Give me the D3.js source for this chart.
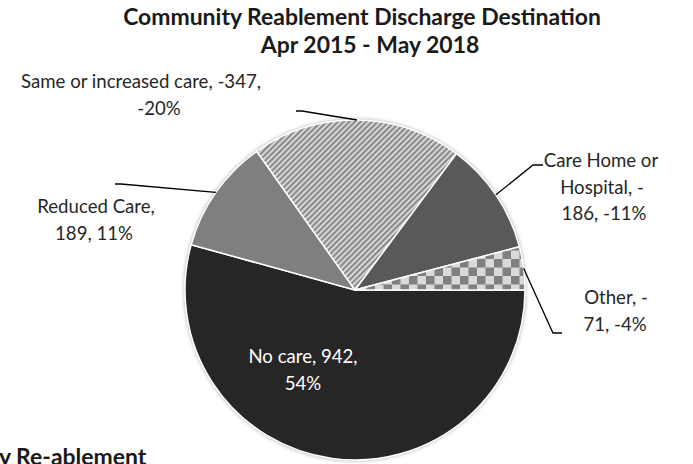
<!DOCTYPE html>
<html><head><meta charset="utf-8">
<script src="https://cdn.jsdelivr.net/npm/d3@7"></script>
<style>html,body{margin:0;padding:0;background:#fff;overflow:hidden}</style>
</head><body>
<svg id="chart" width="693" height="464"></svg>
<script>
// ---- data ----
const categories = ["No care", "Reduced Care", "Same or increased care", "Care Home or Hospital", "Other"];
const values = [942, 189, -347, -186, -71];
const percents = ["54%", "11%", "-20%", "-11%", "-4%"];
const titleLines = ["Community Reablement Discharge Destination", "Apr 2015 - May 2018"];
const footnote = "y Re-ablement";

// ---- layout ----
const W = 693, H = 464;
const cx = 355, cy = 290, R = 170;
const svg = d3.select("#chart");
const defs = svg.append("defs");

const st = defs.append("pattern").attr("id", "stripes").attr("patternUnits", "userSpaceOnUse")
  .attr("width", 4).attr("height", 4).attr("patternTransform", "rotate(45)");
st.append("rect").attr("width", 4).attr("height", 4).attr("fill", "#d6d6d6");
st.append("rect").attr("width", 2).attr("height", 4).attr("fill", "#8a8a8a");

const ck = defs.append("pattern").attr("id", "checker").attr("patternUnits", "userSpaceOnUse")
  .attr("width", 17).attr("height", 17).attr("x", 3).attr("y", 3);
ck.append("rect").attr("width", 17).attr("height", 17).attr("fill", "#d9d9d9");
ck.append("rect").attr("width", 8.5).attr("height", 8.5).attr("fill", "#808080");
ck.append("rect").attr("x", 8.5).attr("y", 8.5).attr("width", 8.5).attr("height", 8.5).attr("fill", "#808080");

const blur = defs.append("filter").attr("id", "blur").attr("x", "-20%").attr("y", "-20%").attr("width", "140%").attr("height", "140%");
blur.append("feGaussianBlur").attr("stdDeviation", 2);

const fills = ["#262626", "#7f7f7f", "url(#stripes)", "#595959", "url(#checker)"];

const g = svg.append("g").attr("transform", `translate(${cx},${cy})`);
g.append("circle").attr("r", R + 0.5).attr("fill", "#000").attr("opacity", 0.35).attr("filter", "url(#blur)");

const pie = d3.pie().value(d => Math.abs(d)).sort(null)
  .startAngle(Math.PI / 2).endAngle(Math.PI / 2 + 2 * Math.PI);
const arcs = pie(values);
const arc = d3.arc().innerRadius(0).outerRadius(R);
const edge = d3.arc().innerRadius(R).outerRadius(R);

g.selectAll("path.slice").data(arcs).join("path").attr("class", "slice")
  .attr("d", arc).attr("fill", (d, i) => fills[i])
  .attr("stroke", "#fff").attr("stroke-width", 1.5).attr("stroke-linejoin", "round");

// leader lines (start on the pie edge at each slice's mid-angle)
const elbows = {
  1: [[121, 184], [115, 184]],
  2: [[302, 111], [296, 111]],
  3: [[533, 165], [543, 165]],
  4: [[553, 333], [562, 333]]
};
Object.keys(elbows).forEach(k => {
  const i = +k;
  const c = edge.centroid(arcs[i]);
  const pts = [[cx + c[0], cy + c[1]]].concat(elbows[i]);
  svg.append("path").attr("d", d3.line()(pts)).attr("fill", "none")
    .attr("stroke", "#000").attr("stroke-width", 1.3);
});

// label text
const fullLabel = i => `${categories[i]}, ${values[i]}, ${percents[i]}`;
const breaks = [[13], [13], [29], [12, 24], [8]];
const labelLines = categories.map((c, i) => {
  const s = fullLabel(i); const out = []; let p = 0;
  breaks[i].forEach(b => { out.push(s.slice(p, b).trim()); p = b; });
  out.push(s.slice(p).trim());
  return out;
});
const labelPos = [
  { xs: [303, 303], y: 363, fill: "#ffffff" },
  { xs: [96, 94], y: 213, fill: "#262626" },
  { xs: [141, 159], y: 88, fill: "#262626" },
  { xs: [601, 602, 604], y: 167, fill: "#262626" },
  { xs: [616, 615], y: 304, fill: "#262626" }
];
const LH = 26.5;
const FONT = "Lato, 'Open Sans', sans-serif";

// fit font sizes to the reference widths
const probe = svg.append("text").attr("font-family", FONT).attr("font-size", 20).text(labelLines[2][0]);
const labelSize = 20 * 240 / probe.node().getComputedTextLength();
probe.attr("font-weight", "bold").text(titleLines[0]);
const titleSize = 20 * 478 / probe.node().getComputedTextLength();
probe.remove();

labelLines.forEach((lines, i) => {
  const p = labelPos[i];
  const t = svg.append("text").attr("font-family", FONT).attr("font-size", labelSize)
    .attr("fill", p.fill).attr("text-anchor", "middle");
  lines.forEach((ln, j) => {
    t.append("tspan").attr("x", p.xs[j]).attr("y", p.y + j * LH).text(ln);
  });
});

const tt = svg.append("text").attr("font-family", FONT).attr("font-size", titleSize)
  .attr("font-weight", "bold").attr("fill", "#1a1a1a").attr("text-anchor", "middle");
tt.append("tspan").attr("x", 362).attr("y", 25).text(titleLines[0]);
tt.append("tspan").attr("x", 370).attr("y", 53).text(titleLines[1]);

svg.append("text").attr("font-family", FONT).attr("font-size", titleSize).attr("font-weight", "bold")
  .attr("fill", "#1a1a1a").attr("x", -1).attr("y", 465).text(footnote);
</script>
</body></html>
